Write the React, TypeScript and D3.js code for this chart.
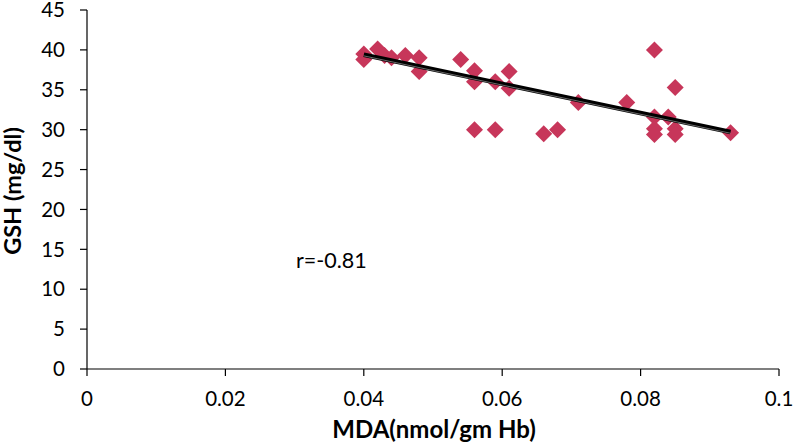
import React from "react";
import * as d3 from "d3";

const mdaValues = [0.040, 0.040, 0.042, 0.043, 0.044, 0.046, 0.048, 0.048, 0.054, 0.056, 0.056, 0.059, 0.061, 0.061, 0.056, 0.059, 0.066, 0.068, 0.071, 0.078, 0.082, 0.085, 0.082, 0.082, 0.082, 0.084, 0.085, 0.085, 0.093];
const gshValues = [39.5, 38.8, 40.1, 39.3, 39.0, 39.3, 39.0, 37.3, 38.8, 37.4, 36.0, 36.0, 37.3, 35.2, 30.0, 30.0, 29.5, 30.0, 33.4, 33.4, 40.0, 35.3, 31.6, 30.1, 29.4, 31.6, 30.1, 29.4, 29.6];
const xTicks = [0, 0.02, 0.04, 0.06, 0.08, 0.1];
const xTickLabels = ["0", "0.02", "0.04", "0.06", "0.08", "0.1"];
const yTicks = [0, 5, 10, 15, 20, 25, 30, 35, 40, 45];
const trendX = [0.040, 0.093];
const trendY = [39.4, 29.7];
const xTitle = "MDA(nmol/gm Hb)";
const yTitle = "GSH (mg/dl)";
const annotation = "r=-0.81";

const W = 793;
const H = 446;
const FONT = "Lato, 'Open Sans', sans-serif";
const RED = "#c7365a";

export default function App() {
  const x = d3.scaleLinear().domain([0, 0.1]).range([87, 779]);
  const y = d3.scaleLinear().domain([0, 45]).range([369, 10]);
  const r = 8.5;
  const diamond = `M0,${-r}L${r},0L0,${r}L${-r},0Z`;
  const line = d3.line<number>().x((d, i) => x(trendX[i])).y((d, i) => y(trendY[i]));
  const pts = trendX.map((_, i) => i);

  return (
    <svg width={W} height={H} style={{ position: "absolute", left: 0, top: 0, background: "#fff" }} fontFamily={FONT}>
      <rect width={W} height={H} fill="#fff" />
      {/* axes */}
      <line x1={x(0)} x2={x(0.1)} y1={y(0)} y2={y(0)} stroke="#000" strokeWidth={1.2} />
      <line x1={x(0)} x2={x(0)} y1={y(0)} y2={y(45)} stroke="#000" strokeWidth={1.2} />
      {xTicks.map((t, i) => (
        <g key={"xt" + i}>
          <line x1={x(t)} x2={x(t)} y1={y(0)} y2={y(0) + 7} stroke="#000" strokeWidth={1.2} />
          <text x={x(t)} y={406} textAnchor="middle" fontSize={20.5} fill="#000">{xTickLabels[i]}</text>
        </g>
      ))}
      {yTicks.map((t, i) => (
        <g key={"yt" + i}>
          <line x1={x(0) - 7} x2={x(0)} y1={y(t)} y2={y(t)} stroke="#000" strokeWidth={1.2} />
          <text x={65} y={y(t)} dy="0.35em" textAnchor="end" fontSize={20.5} fill="#000">{t}</text>
        </g>
      ))}
      {/* points */}
      {mdaValues.map((v, i) => (
        <path key={"p" + i} d={diamond} transform={`translate(${x(v)},${y(gshValues[i])})`} fill={RED} />
      ))}
      {/* trend line */}
      <path d={line(pts) || ""} stroke="#000" strokeWidth={4.5} fill="none" />
      <path d={line(pts) || ""} stroke="#fff" strokeWidth={0.7} fill="none" opacity={0.6} transform="translate(0,1.2)" />
      {/* titles */}
      <text x={434} y={438} textAnchor="middle" fontSize={24} fontWeight="bold" fill="#000">{xTitle}</text>
      <text transform={`translate(21,${191}) rotate(-90)`} textAnchor="middle" fontSize={23.5} fontWeight="bold" fill="#000">{yTitle}</text>
      <text x={296} y={268} fontSize={21.5} fill="#000">{annotation}</text>
    </svg>
  );
}
